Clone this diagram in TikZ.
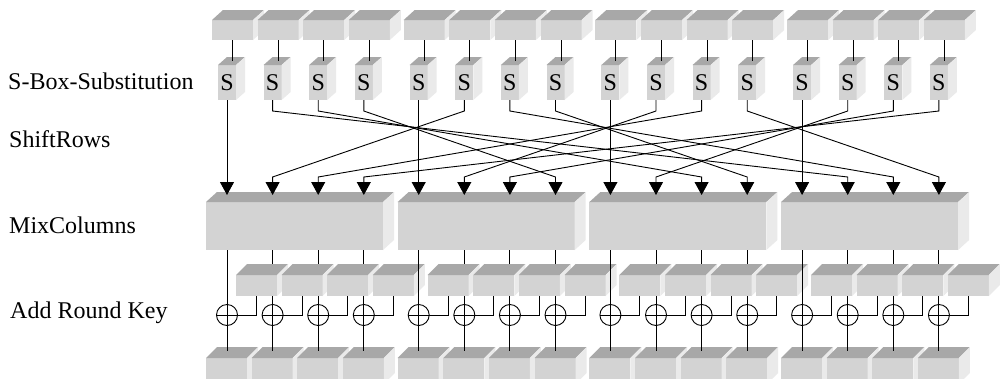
\documentclass[tikz,border=0pt]{standalone}
\usepackage{fontspec}
\setmainfont{Liberation Serif}
\usetikzlibrary{arrows.meta,calc}
\definecolor{frontc}{RGB}{211,211,211}
\definecolor{topc}{RGB}{168,168,168}
\definecolor{sidec}{RGB}{234,234,234}
\newcommand\cubefaces[3]{%
  \fill[topc] (#1.north west) -- ++(#2,-#3) -- ($(#1.north east)+(#2,-#3)$) -- (#1.north east) -- cycle;
  \fill[sidec] (#1.north east) -- ++(#2,-#3) -- ($(#1.south east)+(#2,-#3)$) -- (#1.south east) -- cycle;}
\tikzset{
  box/.style={rectangle, inner sep=0pt, outer sep=0pt, fill=frontc, anchor=north west},
  conn/.style={draw=black, line width=0.9pt},
  arr/.style={conn, -{Triangle[width=14pt,length=13pt]}},
  xor/.style={circle, draw=black, fill=white, line width=0.9pt, minimum size=21pt, inner sep=0pt, outer sep=0pt,
    path picture={\draw[line width=0.9pt] (path picture bounding box.north) -- (path picture bounding box.south)
      (path picture bounding box.west) -- (path picture bounding box.east);}},
  lbl/.style={anchor=base west, inner sep=0pt, font=\fontsize{24}{28}\selectfont},
  sfont/.style={font=\fontsize{24}{24}\selectfont}
}
\begin{document}
\begin{tikzpicture}[x=1pt,y=-1pt]
\useasboundingbox (0,0) rectangle (1000,378);
\fill[white] (0,0) rectangle (1000,378);
\clip (0,0) rectangle (1000,378);
% labels
\node[lbl] (l1) at (8,89) {S-Box-Substitution};
\node[lbl] (l2) at (9,147) {ShiftRows};
\node[lbl] (l3) at (9,233) {MixColumns};
\node[lbl] (l4) at (10,318) {Add Round Key};
% top row and S-boxes
\foreach \g in {0,...,3}{\foreach \j in {0,...,3}{
  \pgfmathsetmacro\bx{212+191.7*\g+45.6*\j}
  \node[box, minimum width=41pt, minimum height=20pt] (t-\g-\j) at (\bx,20) {};
  \cubefaces{t-\g-\j}{11}{10}
  \node[box, minimum width=18pt, minimum height=35pt, sfont] (s-\g-\j) at (\bx+6,65) {S};
  \cubefaces{s-\g-\j}{9}{8}
  \draw[conn] (t-\g-\j.south) -- ($(t-\g-\j.south |- s-\g-\j.north)+(0,-4)$);
  \coordinate (in-\g-\j) at (\bx+15,195);
}}
% MixColumns boxes
\foreach \g in {0,...,3}{
  \node[box, minimum width=177pt, minimum height=48pt] (mc-\g) at (212+191.7*\g-6,202) {};
  \cubefaces{mc-\g}{11}{10}
}
% ShiftRows connectors
\foreach \g in {0,...,3}{\foreach \j in {0,...,3}{
  \pgfmathtruncatemacro\tg{mod(\g-\j+4,4)}
  \ifnum\j=0
    \draw[arr] (s-\g-\j.south) -- (in-\tg-\j);
  \else
    \draw[arr] (s-\g-\j.south) -- ++(0,11) -- ($(in-\tg-\j)+(0,-18)$) -- (in-\tg-\j);
  \fi
}}
% bottom row
\foreach \g in {0,...,3}{\foreach \j in {0,...,3}{
  \pgfmathsetmacro\bx{212+191.7*\g+45.6*\j}
  \node[box, minimum width=41pt, minimum height=26pt] (b-\g-\j) at (\bx-6,358) {};
  \cubefaces{b-\g-\j}{11}{11}
}}
% data lines and round key boxes
\foreach \g in {0,...,3}{
  \foreach \j in {0,...,3}{
    \draw[conn] (mc-\g.south -| in-\g-\j) -- ($(b-\g-\j.north -| in-\g-\j)+(0,-7)$);
  }
  \foreach \j in {0,...,3}{
    \pgfmathsetmacro\bx{212+191.7*\g+45.6*\j}
    \node[box, minimum width=41pt, minimum height=21pt] (k-\g-\j) at (\bx+24,275) {};
    \cubefaces{k-\g-\j}{11}{11}
  }
}
% XOR and key lines
\foreach \g in {0,...,3}{\foreach \j in {0,...,3}{
  \pgfmathsetmacro\bx{212+191.7*\g+45.6*\j}
  \node[xor] (x-\g-\j) at (\bx+15,315) {};
  \draw[conn] (k-\g-\j.south) |- (x-\g-\j.east);
}}
\end{tikzpicture}
\end{document}
